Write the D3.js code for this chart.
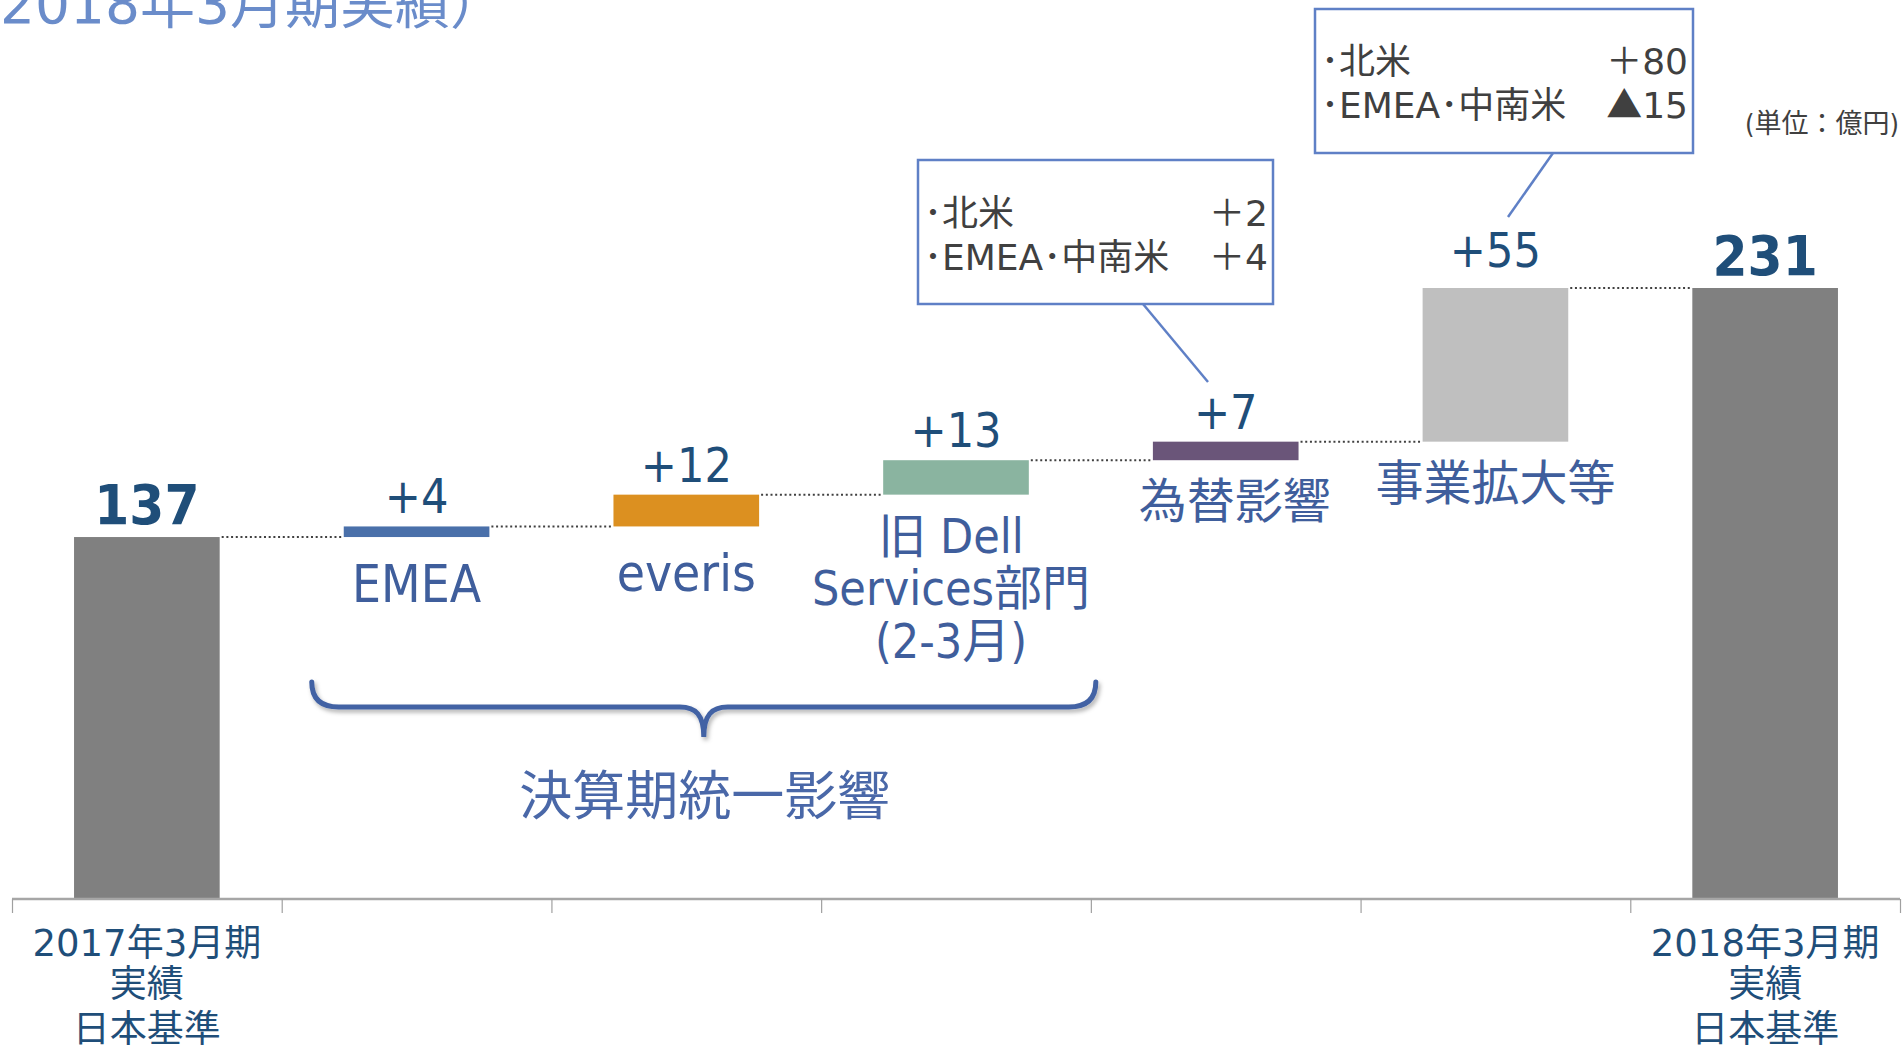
<!DOCTYPE html>
<html>
<head>
<meta charset="utf-8">
<script src="https://cdn.jsdelivr.net/npm/d3@7"></script>
<style>
  html, body { margin: 0; padding: 0; background: #ffffff; }
  svg { display: block; }
  .lat { font-family: "DejaVu Sans Condensed", "DejaVu Sans", "Noto Sans CJK JP", sans-serif; font-stretch: condensed; }
  .reg { font-family: "DejaVu Sans", "Noto Sans CJK JP", sans-serif; }
  .jp { font-family: "Noto Sans CJK JP", "DejaVu Sans", sans-serif; }
</style>
</head>
<body>
<svg id="chart" width="1904" height="1047"></svg>
<script>
// ---------------- data ----------------
const categories = ["start", "EMEA", "everis", "Dell", "FX", "Growth", "end"];
const kinds = ["total", "delta", "delta", "delta", "delta", "delta", "total"];
const values = [137, 4, 12, 13, 7, 58, 231];
const valueLabels = ["137", "+4", "+12", "+13", "+7", "+55", "231"];
const barLabels = ["", "EMEA", "everis", "旧 Dell|Services部門|(2-3月)", "為替影響", "事業拡大等", ""];
const axisLabels = ["2017年3月期|実績|日本基準", "", "", "", "", "", "2018年3月期|実績|日本基準"];
const calloutFX = [["北米", "＋", "2"], ["EMEA･中南米", "＋", "4"]];
const calloutGrowth = [["北米", "＋", "80"], ["EMEA･中南米", "▲", "15"]];
const titleText = "2018年3月期実績）";
const unitText = "(単位：億円)";
const groupLabel = "決算期統一影響";

// ---------------- styles ----------------
const colorMap = {
  start: "#808080", EMEA: "#4a70aa", everis: "#dc9020", Dell: "#8ab4a0",
  FX: "#6a5579", Growth: "#bfbfbf", end: "#808080"
};
const labelShift = { Dell: -5, FX: 9 };
const numColor = "#1f4e79";
const labelColor = "#3f5e9c";
const boxColor = "#5f80c6";

const svg = d3.select("#chart");

// scales
const x = d3.scaleBand().domain(categories).range([12, 1900]).paddingInner(0.46).paddingOuter(0.23);
const y = d3.scaleLinear().domain([0, 231]).range([900, 288]);
const xb = d3.scaleLinear().domain([0, categories.length]).range([12, 1900]);

// waterfall extents
let run = 0;
const bars = categories.map((c, i) => {
  let lo, hi;
  if (kinds[i] === "total") { lo = 0; hi = values[i]; run = values[i]; }
  else { lo = run; hi = run + values[i]; run = hi; }
  return { c, i, lo, hi, level: hi };
});

// title (partially cut at top, as in the original slide crop)
svg.append("text").attr("class", "reg").attr("x", 0).attr("y", 23)
  .attr("font-size", 55).attr("fill", "#6a8cca").text(titleText);

// unit
svg.append("text").attr("class", "lat").attr("x", 1899).attr("y", 133)
  .attr("text-anchor", "end").attr("font-size", 27).attr("fill", "#404040").text(unitText);

// connectors
const conn = svg.append("g");
bars.slice(0, -1).forEach((b, i) => {
  const nb = bars[i + 1];
  conn.append("line")
    .attr("x1", x(b.c) + x.bandwidth() + 2).attr("x2", x(nb.c) - 2)
    .attr("y1", y(b.level)).attr("y2", y(b.level))
    .attr("stroke", "#404040").attr("stroke-width", 2).attr("stroke-dasharray", "2,2.7");
});

// bars
svg.append("g").selectAll("rect").data(bars).join("rect")
  .attr("x", d => x(d.c)).attr("width", x.bandwidth())
  .attr("y", d => y(d.hi)).attr("height", d => y(d.lo) - y(d.hi))
  .attr("fill", d => colorMap[d.c]);

// value labels
svg.append("g").selectAll("text").data(bars).join("text")
  .attr("class", "lat")
  .attr("x", d => x(d.c) + x.bandwidth() / 2)
  .attr("y", d => y(d.hi) - (kinds[d.i] === "total" ? 13 : (d.c === "Growth" ? 21 : 13)))
  .attr("text-anchor", "middle")
  .attr("font-size", d => kinds[d.i] === "total" ? 56 : 48)
  .attr("font-weight", d => kinds[d.i] === "total" ? "bold" : "normal")
  .attr("fill", numColor)
  .text(d => valueLabels[d.i]);

// bar labels (below the delta bars)
const bl = svg.append("g");
bars.forEach(b => {
  if (!barLabels[b.i]) return;
  const lines = barLabels[b.i].split("|");
  const latin = /^[A-Za-z]+$/.test(barLabels[b.i]);
  const cx = x(b.c) + x.bandwidth() / 2 + (labelShift[b.c] || 0);
  const t = bl.append("text").attr("class", "lat")
    .attr("x", cx)
    .attr("y", y(b.lo) + (latin ? 65 : 58))
    .attr("text-anchor", "middle").attr("font-size", latin ? 51 : 48).attr("fill", labelColor);
  lines.forEach((ln, k) => t.append("tspan")
    .attr("x", cx).attr("dy", k === 0 ? 0 : 52.5).text(ln));
});

// x axis: line + boundary ticks
const axis = d3.axisBottom(xb).tickValues(d3.range(categories.length + 1)).tickSize(14).tickFormat("");
const ag = svg.append("g").attr("transform", "translate(0,899)").call(axis);
ag.select(".domain").attr("stroke", "#a6a6a6").attr("stroke-width", 2.5).attr("d", `M12,0H1900`);
ag.selectAll(".tick line").attr("stroke", "#a0a0a0").attr("stroke-width", 1.2);

// axis category labels
const al = svg.append("g");
categories.forEach((c, i) => {
  if (!axisLabels[i]) return;
  const lines = axisLabels[i].split("|");
  const cx = x(c) + x.bandwidth() / 2;
  const t = al.append("text").attr("class", "reg").attr("x", cx).attr("y", 956)
    .attr("text-anchor", "middle").attr("font-size", 37).attr("fill", numColor);
  lines.forEach((ln, k) => t.append("tspan").attr("x", cx).attr("dy", k === 0 ? 0 : (k === 1 ? 41 : 45)).text(ln));
});

// brace
const defs = svg.append("defs");
const f = defs.append("filter").attr("id", "sh").attr("x", "-5%").attr("y", "-20%").attr("width", "110%").attr("height", "160%");
f.append("feDropShadow").attr("dx", 2).attr("dy", 3).attr("stdDeviation", 2).attr("flood-color", "#000").attr("flood-opacity", 0.3);
const bx0 = x("EMEA") - 32, bx1 = x("Dell") + x.bandwidth() + 67, bmid = (bx0 + bx1) / 2;
const by0 = 682, by1 = 707, by2 = 737;
svg.append("path")
  .attr("d", `M${bx0},${by0} Q${bx0},${by1} ${bx0 + 27},${by1} L${bmid - 24},${by1} C${bmid - 8},${by1} ${bmid},${by1 + 8} ${bmid},${by2} C${bmid},${by1 + 8} ${bmid + 8},${by1} ${bmid + 24},${by1} L${bx1 - 27},${by1} Q${bx1},${by1} ${bx1},${by0}`)
  .attr("fill", "none").attr("stroke", "#4262a4").attr("stroke-width", 5).attr("stroke-linecap", "round")
  .attr("filter", "url(#sh)");
svg.append("text").attr("class", "jp").attr("x", bmid + 1).attr("y", 815)
  .attr("text-anchor", "middle").attr("font-size", 53).attr("fill", "#4a68a8").text(groupLabel);

// callouts
function callout(rx, ry, rw, rh, rows, base1, lead) {
  const g = svg.append("g");
  g.append("line").attr("x1", lead[0]).attr("y1", lead[1]).attr("x2", lead[2]).attr("y2", lead[3])
    .attr("stroke", boxColor).attr("stroke-width", 2.5);
  g.append("rect").attr("x", rx).attr("y", ry).attr("width", rw).attr("height", rh)
    .attr("fill", "#ffffff").attr("stroke", boxColor).attr("stroke-width", 2.5);
  rows.forEach((r, k) => {
    g.append("text").attr("class", "reg").attr("x", rx + 6).attr("y", base1 + k * 44)
      .attr("font-size", 36).attr("fill", "#404040").text("･" + r[0]);
    const t = g.append("text").attr("class", "reg").attr("x", rx + rw - 5).attr("y", base1 + k * 44)
      .attr("text-anchor", "end").attr("font-size", 36).attr("fill", "#404040");
    t.append("tspan").attr("class", "jp").text(r[1]);
    t.append("tspan").text(r[2]);
  });
}
callout(918, 160, 355, 144, calloutFX, 226, [1143, 304, 1208, 382]);
callout(1315, 9, 378, 144, calloutGrowth, 74, [1553, 153, 1508, 217]);
</script>
</body>
</html>
